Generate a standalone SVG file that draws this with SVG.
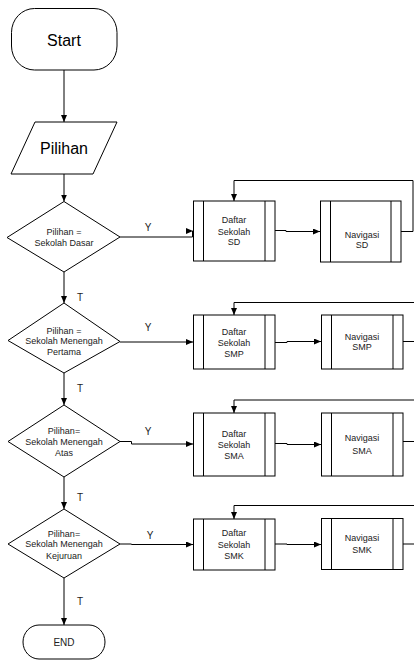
<svg xmlns="http://www.w3.org/2000/svg" width="414" height="660" viewBox="0 0 414 660">
<style>
.s{fill:#fff;stroke:#000;stroke-width:1}
.c{fill:none;stroke:#000;stroke-width:1}
.b{font-family:"Liberation Sans",Arial,sans-serif;font-size:16px;fill:#000;text-anchor:middle}
.t{font-family:"Liberation Sans",Arial,sans-serif;font-size:9px;fill:#222;text-anchor:middle}
.l{font-family:"Liberation Sans",Arial,sans-serif;font-size:10px;fill:#222;text-anchor:middle}
</style>
<defs>
<marker id="a" markerUnits="userSpaceOnUse" markerWidth="8" markerHeight="7" refX="7" refY="3" orient="auto"><path d="M0,0 L7,3 L0,6 z" fill="#000"/></marker>
</defs>
<rect width="414" height="660" fill="#fff"/>
<g id="connectors">
<path class="c" d="M64,70 V122" marker-end="url(#a)"/>
<path class="c" d="M64,174 V201.5" marker-end="url(#a)"/>
<path class="c" d="M120,237 H192.5 V231 H193" marker-end="url(#a)"/>
<path class="c" d="M275,230.5 H286 V231.5 H320" marker-end="url(#a)"/>
<path class="c" d="M401,231.5 H413 V180.5 H234 V201" marker-end="url(#a)"/>
<path class="c" d="M64,272 V303" marker-end="url(#a)"/>
<path class="c" d="M120,342 H193" marker-end="url(#a)"/>
<path class="c" d="M275,342.5 H287 V341.5 H321" marker-end="url(#a)"/>
<path class="c" d="M403,341.5 H414 M414,302.5 H234 V315" marker-end="url(#a)"/>
<path class="c" d="M64,373 V405" marker-end="url(#a)"/>
<path class="c" d="M120,441.5 H131.5 V444 H193" marker-end="url(#a)"/>
<path class="c" d="M275,443.5 H287 V444.5 H321" marker-end="url(#a)"/>
<path class="c" d="M403,441.5 H414 M414,400 H234 V413" marker-end="url(#a)"/>
<path class="c" d="M64,477 V509" marker-end="url(#a)"/>
<path class="c" d="M120,544 H131.5 V544.5 H193" marker-end="url(#a)"/>
<path class="c" d="M275,544 H287 V544.5 H321" marker-end="url(#a)"/>
<path class="c" d="M403,544 H414 M414,505.5 H234 V519" marker-end="url(#a)"/>
<path class="c" d="M64,578 V625" marker-end="url(#a)"/>
<text class="l" x="148" y="231">Y</text>
<text class="l" x="148" y="331">Y</text>
<text class="l" x="148" y="435">Y</text>
<text class="l" x="150" y="539">Y</text>
<text class="l" x="80" y="301">T</text>
<text class="l" x="80" y="392">T</text>
<text class="l" x="80" y="501">T</text>
<text class="l" x="80" y="605">T</text>
</g>
<g id="start"><rect class="s" x="11.5" y="8.5" width="105.5" height="61.5" rx="23" ry="24"/><text class="b" x="64" y="46">Start</text></g>
<g id="pilihan"><polygon class="s" points="35,122 117,122 93,174 11,174"/><text class="b" x="64" y="154">Pilihan</text></g>
<g id="d1"><polygon class="s" points="64,201.5 120,237 64,272 7,237.5"/><text class="t" x="64" y="235">Pilihan =</text><text class="t" x="64" y="246">Sekolah Dasar</text></g>
<g id="d2"><polygon class="s" points="64,303 120,341.5 64,373 8,340.5"/><text class="t" x="64" y="334">Pilihan =</text><text class="t" x="64" y="344">Sekolah Menengah</text><text class="t" x="64" y="355">Pertama</text></g>
<g id="d3"><polygon class="s" points="64,405 120,441.5 64,477 8,441.5"/><text class="t" x="64" y="434">Pilihan=</text><text class="t" x="64" y="445">Sekolah Menengah</text><text class="t" x="64" y="456">Atas</text></g>
<g id="d4"><polygon class="s" points="64,509 120,544 64,578 8,544"/><text class="t" x="64" y="537">Pilihan=</text><text class="t" x="64" y="547">Sekolah Menengah</text><text class="t" x="64" y="559">Kejuruan</text></g>
<g id="daftar-sd"><rect class="s" x="193.5" y="201" width="81.5" height="60"/><path class="c" d="M203.5,201 V261 M265,201 V261"/><text class="t" x="234" y="223">Daftar</text><text class="t" x="234" y="235">Sekolah</text><text class="t" x="234" y="245">SD</text></g>
<g id="nav-sd"><rect class="s" x="320.5" y="201" width="80.5" height="61"/><path class="c" d="M330.5,201 V262 M391,201 V262"/><text class="t" x="362" y="238">Navigasi</text><text class="t" x="362" y="248">SD</text></g>
<g id="daftar-smp"><rect class="s" x="193.5" y="315" width="81.5" height="54"/><path class="c" d="M203.5,315 V369 M265,315 V369"/><text class="t" x="234" y="335">Daftar</text><text class="t" x="234" y="346">Sekolah</text><text class="t" x="234" y="357">SMP</text></g>
<g id="nav-smp"><rect class="s" x="321.5" y="315" width="81.5" height="54"/><path class="c" d="M331.5,315 V369 M393,315 V369"/><text class="t" x="362" y="340">Navigasi</text><text class="t" x="362" y="350">SMP</text></g>
<g id="daftar-sma"><rect class="s" x="193.5" y="413" width="81.5" height="63"/><path class="c" d="M203.5,413 V476 M265,413 V476"/><text class="t" x="234" y="437">Daftar</text><text class="t" x="234" y="448">Sekolah</text><text class="t" x="234" y="459">SMA</text></g>
<g id="nav-sma"><rect class="s" x="321.5" y="413" width="81.5" height="63"/><path class="c" d="M331.5,413 V476 M393,413 V476"/><text class="t" x="362" y="441">Navigasi</text><text class="t" x="362" y="454">SMA</text></g>
<g id="daftar-smk"><rect class="s" x="193.5" y="519" width="81.5" height="51"/><path class="c" d="M203.5,519 V570 M265,519 V570"/><text class="t" x="234" y="536">Daftar</text><text class="t" x="234" y="548">Sekolah</text><text class="t" x="234" y="559">SMK</text></g>
<g id="nav-smk"><rect class="s" x="321.5" y="518.5" width="81.5" height="51"/><path class="c" d="M331.5,518.5 V569.5 M393,518.5 V569.5"/><text class="t" x="362" y="541">Navigasi</text><text class="t" x="362" y="553">SMK</text></g>
<g id="end"><rect class="s" x="23" y="625" width="82" height="34" rx="16" ry="17"/><text class="l" x="64" y="646">END</text></g>
</svg>
